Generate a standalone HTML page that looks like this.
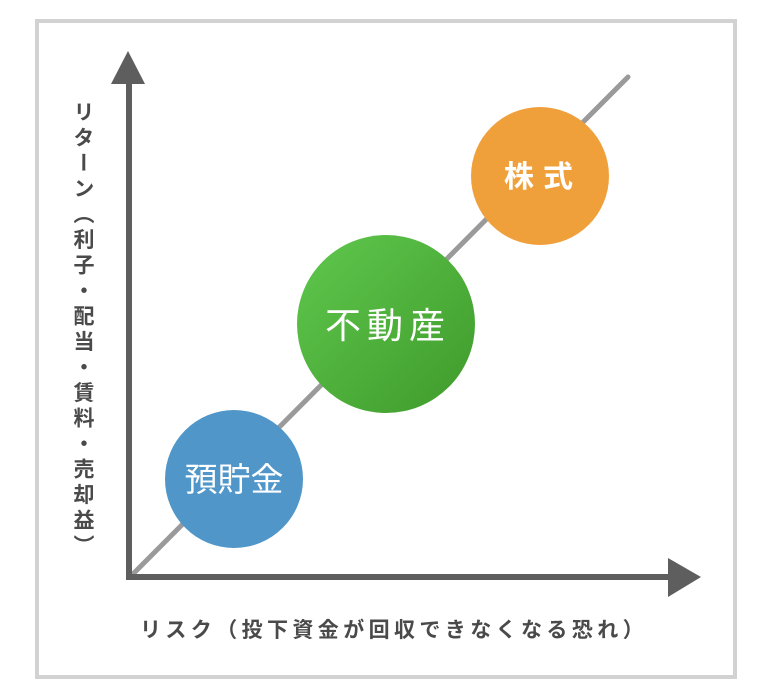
<!DOCTYPE html>
<html><head><meta charset="utf-8"><style>
html,body{margin:0;padding:0;background:#fff;}
body{width:768px;height:694px;position:relative;overflow:hidden;font-family:"Liberation Sans","Noto Sans CJK JP",sans-serif;}
.box{position:absolute;left:35px;top:19px;width:694px;height:652px;border:4px solid #d2d2d2;}
.ylab{position:absolute;left:70px;top:101px;writing-mode:vertical-rl;font-size:21px;letter-spacing:4.5px;color:#4a4a4a;font-weight:bold;line-height:24px;}
.xlab{position:absolute;left:140px;top:614px;font-size:21px;letter-spacing:4.4px;color:#4a4a4a;font-weight:bold;white-space:nowrap;}
</style></head><body>
<div class="box"></div>
<svg width="768" height="694" style="position:absolute;left:0;top:0">
<defs><linearGradient id="g" x1="0" y1="0" x2="1" y2="1"><stop offset="0" stop-color="#5fc84d"/><stop offset="1" stop-color="#3f9a2b"/></linearGradient></defs>
<line x1="130" y1="577" x2="628" y2="77" stroke="#9a9a9a" stroke-width="5" stroke-linecap="round"/>
<line x1="129" y1="80" x2="129" y2="580" stroke="#5e5e5e" stroke-width="6"/>
<line x1="126" y1="577" x2="670" y2="577" stroke="#5e5e5e" stroke-width="6"/>
<polygon points="128,51 145,84 111,84" fill="#5e5e5e"/>
<polygon points="701,577 668,558 668,597" fill="#5e5e5e"/>
<circle cx="234" cy="479" r="69" fill="#5096c9"/>
<circle cx="386" cy="324" r="89" fill="url(#g)"/>
<circle cx="540" cy="176" r="69" fill="#f0a03a"/>
<text x="234" y="491" text-anchor="middle" font-size="33" fill="#fff" font-family="Liberation Sans,Noto Sans CJK JP,sans-serif">預貯金</text>
<text x="388" y="338" text-anchor="middle" font-size="36" letter-spacing="6" fill="#fff" font-family="Liberation Sans,Noto Sans CJK JP,sans-serif">不動産</text>
<text x="543" y="187" text-anchor="middle" font-size="30" letter-spacing="9" fill="#fff" font-weight="bold" font-family="Liberation Sans,Noto Sans CJK JP,sans-serif">株式</text>
</svg>
<div class="ylab">リターン（利子・配当・賃料・売却益）</div>
<div class="xlab">リスク（投下資金が回収できなくなる恐れ）</div>
</body></html>
